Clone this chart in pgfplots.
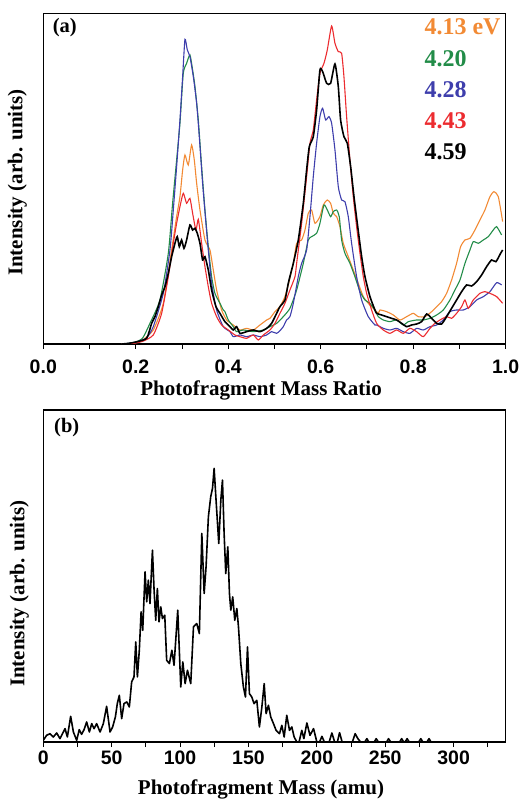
\documentclass[border=0pt]{standalone}
\usepackage{fontspec}
\setmainfont{Liberation Serif}
\setsansfont{Liberation Sans}
\usepackage{pgfplots}
\pgfplotsset{compat=1.18}
\definecolor{corange}{RGB}{242,138,52}
\definecolor{cgreen}{RGB}{34,140,72}
\definecolor{cblue}{RGB}{62,62,172}
\definecolor{cred}{RGB}{236,44,48}
\pgfplotsset{
  panel/.style={
    scale only axis, width=462.3pt,
    axis line style={line width=1.2pt},
    tick style={line width=0.9pt, black},
    tick align=outside, major tick length=5pt, minor tick length=5pt,
    xtick pos=lower, ytick=\empty,
    /pgf/number format/assume math mode=true,
    xticklabel style={font=\sffamily\bfseries\fontsize{19.5}{20}\selectfont},
    label style={font=\bfseries\fontsize{21}{24}\selectfont},
    clip=true,
  }
}
\begin{document}
\begin{tikzpicture}
\useasboundingbox (0pt,0pt) rectangle (519pt,801pt);
% ---------------- panel (a)
\begin{axis}[panel, at={(43.3pt,457pt)}, anchor=south west, height=330.7pt,
  xmin=0, xmax=1, ymin=0, ymax=992,
  xtick={0,0.2,0.4,0.6,0.8,1.0}, xticklabels={0.0,0.2,0.4,0.6,0.8,1.0},
  minor xtick={0.1,0.3,0.5,0.7,0.9},
  xticklabel style={yshift=-7pt},
  xlabel={Photofragment Mass Ratio},
  xlabel style={at={(axis description cs:0.471,0)}, anchor=base, yshift=-52pt},
  ylabel={Intensity (arb. units)},
  ylabel style={at={([xshift=-21pt]axis description cs:0,0.488)}, anchor=base},
  every axis plot/.append style={smooth, tension=0.35},
]
% 4.13 eV
\addplot[corange, line width=1.1pt] coordinates {
(0.170,0)(0.185,1)(0.200,4)(0.215,12)(0.2379,42)(0.2596,122)(0.2776,282)(0.2884,382)(0.2956,442)(0.3014,522)(0.3064,567)(0.3136,537)(0.3208,597)(0.3266,552)(0.3317,482)(0.3389,402)(0.3497,312)(0.3605,282)(0.3677,222)(0.3749,162)(0.3857,102)(0.3966,72)(0.4110,57)(0.4254,42)(0.4398,47)(0.4542,42)(0.4687,57)(0.4831,72)(0.4903,77)(0.5011,97)(0.5119,112)(0.5227,142)(0.5299,177)(0.5408,242)(0.5480,302)(0.5588,312)(0.5660,342)(0.5732,392)(0.5804,402)(0.5876,362)(0.5984,382)(0.6056,417)(0.6143,432)(0.6215,422)(0.6273,392)(0.6345,382)(0.6417,352)(0.6489,302)(0.6597,262)(0.6705,222)(0.6813,182)(0.6922,142)(0.7030,122)(0.7138,107)(0.7246,92)(0.7282,102)(0.7426,97)(0.7571,87)(0.7715,72)(0.7859,82)(0.8003,92)(0.8111,82)(0.8255,82)(0.8400,97)(0.8508,112)(0.8616,127)(0.8724,152)(0.8832,192)(0.8940,242)(0.9027,292)(0.9121,312)(0.9229,317)(0.9337,342)(0.9445,372)(0.9553,402)(0.9661,442)(0.9748,457)(0.9842,442)(0.9936,367)
};
% 4.20
\addplot[cgreen, line width=1.1pt] coordinates {
(0.170,0)(0.185,2)(0.200,6)(0.215,18)(0.2307,62)(0.2523,132)(0.2704,272)(0.2797,422)(0.2884,552)(0.2956,662)(0.3028,812)(0.3100,842)(0.3172,867)(0.3230,822)(0.3281,772)(0.3353,672)(0.3425,532)(0.3497,402)(0.3569,292)(0.3641,202)(0.3713,152)(0.3821,122)(0.3893,102)(0.3929,97)(0.4002,72)(0.4110,52)(0.4182,37)(0.4326,42)(0.4542,37)(0.4759,42)(0.4903,52)(0.5047,62)(0.5191,82)(0.5335,107)(0.5480,162)(0.5624,242)(0.5732,312)(0.5804,322)(0.5912,332)(0.5984,362)(0.6071,417)(0.6143,402)(0.6215,382)(0.6273,397)(0.6345,402)(0.6402,382)(0.6453,312)(0.6525,272)(0.6633,242)(0.6741,202)(0.6850,157)(0.6958,132)(0.7066,122)(0.7174,102)(0.7246,82)(0.7354,72)(0.7498,67)(0.7643,72)(0.7787,57)(0.7895,67)(0.8075,72)(0.8219,72)(0.8364,77)(0.8508,87)(0.8652,102)(0.8796,132)(0.8904,162)(0.9013,192)(0.9121,242)(0.9229,282)(0.9301,307)(0.9409,302)(0.9517,312)(0.9625,322)(0.9734,342)(0.9806,352)(0.9914,327)
};
% 4.28
\addplot[cblue, line width=1.1pt] coordinates {
(0.170,0)(0.185,2)(0.200,5)(0.210,10)(0.2235,18)(0.2379,52)(0.2596,152)(0.2740,282)(0.2812,402)(0.2884,532)(0.2956,672)(0.3014,802)(0.3064,914)(0.3115,882)(0.3172,862)(0.3245,802)(0.3317,722)(0.3374,622)(0.3446,482)(0.3518,362)(0.3569,282)(0.3641,182)(0.3749,102)(0.3893,52)(0.4038,37)(0.4110,22)(0.4254,27)(0.4398,22)(0.4542,27)(0.4687,22)(0.4831,27)(0.4939,37)(0.5047,32)(0.5119,40)(0.5191,52)(0.5263,72)(0.5335,82)(0.5408,122)(0.5516,202)(0.5588,242)(0.5696,282)(0.5768,382)(0.5840,502)(0.5912,602)(0.5984,682)(0.6042,707)(0.6107,672)(0.6179,682)(0.6237,662)(0.6309,582)(0.6381,472)(0.6453,432)(0.6525,427)(0.6597,382)(0.6669,302)(0.6777,202)(0.6886,132)(0.7030,82)(0.7174,57)(0.7210,57)(0.7354,47)(0.7498,42)(0.7643,47)(0.7787,37)(0.7931,32)(0.8075,47)(0.8219,42)(0.8364,52)(0.8508,57)(0.8652,72)(0.8796,97)(0.8940,102)(0.9085,102)(0.9229,112)(0.9373,132)(0.9517,142)(0.9661,157)(0.9806,184)(0.9914,177)
};
% 4.43
\addplot[cred, line width=1.1pt] coordinates {
(0.170,0)(0.185,1)(0.200,3)(0.215,8)(0.2379,27)(0.2560,92)(0.2704,202)(0.2812,302)(0.2884,362)(0.2956,412)(0.3028,452)(0.3100,422)(0.3172,437)(0.3230,392)(0.3302,342)(0.3353,374)(0.3425,302)(0.3497,232)(0.3569,172)(0.3641,122)(0.3749,82)(0.3857,57)(0.4002,42)(0.4146,27)(0.4254,22)(0.4398,17)(0.4542,27)(0.4650,12)(0.4759,27)(0.4903,42)(0.5011,62)(0.5119,92)(0.5227,122)(0.5335,162)(0.5444,202)(0.5480,242)(0.5588,362)(0.5696,502)(0.5768,602)(0.5840,642)(0.5912,732)(0.5984,812)(0.6071,842)(0.6143,882)(0.6237,954)(0.6309,902)(0.6381,877)(0.6453,872)(0.6503,802)(0.6561,682)(0.6633,552)(0.6705,442)(0.6777,352)(0.6850,272)(0.6922,202)(0.6994,152)(0.7102,102)(0.7210,62)(0.7354,42)(0.7498,32)(0.7643,42)(0.7787,32)(0.7931,47)(0.8075,37)(0.8219,22)(0.8364,47)(0.8472,62)(0.8580,72)(0.8724,82)(0.8832,77)(0.8940,92)(0.9049,112)(0.9121,132)(0.9193,107)(0.9301,132)(0.9445,152)(0.9553,157)(0.9661,152)(0.9806,142)(0.9936,122)
};
% 4.59
\addplot[black, line width=1.6pt] coordinates {
(0.170,0)(0.185,2)(0.200,6)(0.2235,17)(0.2343,62)(0.2415,82)(0.2487,112)(0.2560,147)(0.2632,172)(0.2704,212)(0.2776,262)(0.2848,302)(0.2898,322)(0.2942,292)(0.2992,312)(0.3043,287)(0.3100,312)(0.3172,357)(0.3230,342)(0.3281,347)(0.3331,332)(0.3389,302)(0.3446,252)(0.3497,262)(0.3569,222)(0.3641,162)(0.3735,112)(0.3821,92)(0.3929,67)(0.4038,52)(0.4110,42)(0.4182,52)(0.4254,32)(0.4398,37)(0.4542,42)(0.4687,37)(0.4831,47)(0.4939,62)(0.5047,92)(0.5119,112)(0.5227,132)(0.5299,182)(0.5371,222)(0.5408,242)(0.5516,312)(0.5624,422)(0.5696,522)(0.5754,592)(0.5840,622)(0.5912,702)(0.5984,822)(0.6042,817)(0.6129,782)(0.6215,782)(0.6309,840)(0.6381,772)(0.6431,672)(0.6503,622)(0.6576,602)(0.6648,532)(0.6720,442)(0.6792,362)(0.6886,262)(0.6958,202)(0.7066,142)(0.7174,102)(0.7210,92)(0.7318,87)(0.7426,82)(0.7534,77)(0.7643,72)(0.7751,62)(0.7859,52)(0.7967,57)(0.8075,60)(0.8183,67)(0.8292,90)(0.8400,77)(0.8508,62)(0.8616,60)(0.8724,82)(0.8832,107)(0.8940,132)(0.9049,157)(0.9157,177)(0.9265,174)(0.9373,187)(0.9481,207)(0.9589,232)(0.9697,252)(0.9791,247)(0.9892,272)(0.9936,282)
};
\node[anchor=west, font=\bfseries\fontsize{20.5}{22}\selectfont] at (axis description cs:0.013,0.956) {(a)};
\node[anchor=west, text=corange, font=\bfseries\fontsize{24}{26}\selectfont] at (axis cs:0.817,952) {4.13 eV};
\node[anchor=west, text=cgreen, font=\bfseries\fontsize{24}{26}\selectfont] at (axis cs:0.817,857) {4.20};
\node[anchor=west, text=cblue, font=\bfseries\fontsize{24}{26}\selectfont] at (axis cs:0.817,764) {4.28};
\node[anchor=west, text=cred, font=\bfseries\fontsize{24}{26}\selectfont] at (axis cs:0.817,670) {4.43};
\node[anchor=west, text=black, font=\bfseries\fontsize{24}{26}\selectfont] at (axis cs:0.817,577) {4.59};
\end{axis}
% ---------------- panel (b)
\begin{axis}[panel, at={(43.3pt,59pt)}, anchor=south west, height=332pt,
  xmin=0, xmax=338, ymin=0, ymax=995,
  xtick={0,50,100,150,200,250,300},
  minor xtick={25,75,125,175,225,275,325},
  xlabel={Photofragment Mass (amu)},
  xlabel style={at={(axis description cs:0.471,0)}, anchor=base, yshift=-52pt},
  ylabel={Intensity (arb. units)},
  ylabel style={at={([xshift=-19pt]axis description cs:0,0.447)}, anchor=base},
]
\addplot[black, line width=1.6pt, line join=round] coordinates {
(0,5)(2.4,20)(4.9,25)(7.3,15)(9.8,27)(12.2,10)(15.9,40)(17.6,15)(20,77)(22,30)(24.4,5)(26.3,37)(28,23)(29.8,37)(31.7,60)(33.7,30)(35.4,55)(37.1,40)(39,55)(41.5,30)(43.9,55)(46.3,107)(48.8,30)(50.7,45)(52.7,75)(54.1,115)(55.6,140)(57.3,70)(59,115)(61,120)(62.9,105)(64.6,180)(66.3,195)(67.6,300)(68.8,195)(70.2,275)(71.5,390)(72.7,335)(74.4,510)(75.6,420)(76.8,485)(78,415)(79.8,575)(81,455)(82.2,365)(83.4,460)(84.6,360)(85.9,405)(87.1,370)(88.8,380)(90.2,245)(92.2,235)(94,275)(95.6,230)(98.3,395)(100.5,165)(102,240)(103.7,175)(105.4,215)(107.8,175)(109.8,345)(112.2,355)(114.1,325)(115.9,625)(117.6,445)(119,525)(120.7,675)(122.4,735)(123.7,760)(124.9,820)(126.3,725)(128.3,595)(129.8,725)(131,785)(132.2,625)(133.4,505)(134.9,585)(136.1,445)(137.1,395)(138.5,435)(140,365)(141.5,400)(142.7,345)(144.4,235)(146.3,165)(147.8,135)(149.3,285)(150.7,145)(152.4,135)(154.1,115)(156.1,125)(158,45)(159.8,105)(161.5,175)(162.9,85)(164.6,110)(166.3,75)(168.3,55)(170.2,35)(172.7,25)(174.4,50)(176.1,15)(178,80)(180,35)(181.7,45)(183.4,15)(185.4,0)(187,0)(189,35)(190.5,10)(192.7,57)(195,20)(197.6,40)(200,0)(202,0)(203.7,17)(205.5,0)(209,0)(211,27)(213,0)(215,0)(216.6,28)(218.5,0)(226,0)(228,25)(230,10)(232,0)(235,0)(236.6,10)(238,0)(242,0)(243.4,10)(245,0)(251,0)(252.4,10)(254,0)(260.5,0)(262,10)(263.5,0)(264.5,0)(266,10)(267.5,0)(274.5,0)(276,10)(277.5,0)(280.5,0)(282,10)(283.5,0)(290,0)
};
\node[anchor=west, font=\bfseries\fontsize{20.5}{22}\selectfont] at (axis description cs:0.016,0.947) {(b)};
\end{axis}
\end{tikzpicture}
\end{document}
